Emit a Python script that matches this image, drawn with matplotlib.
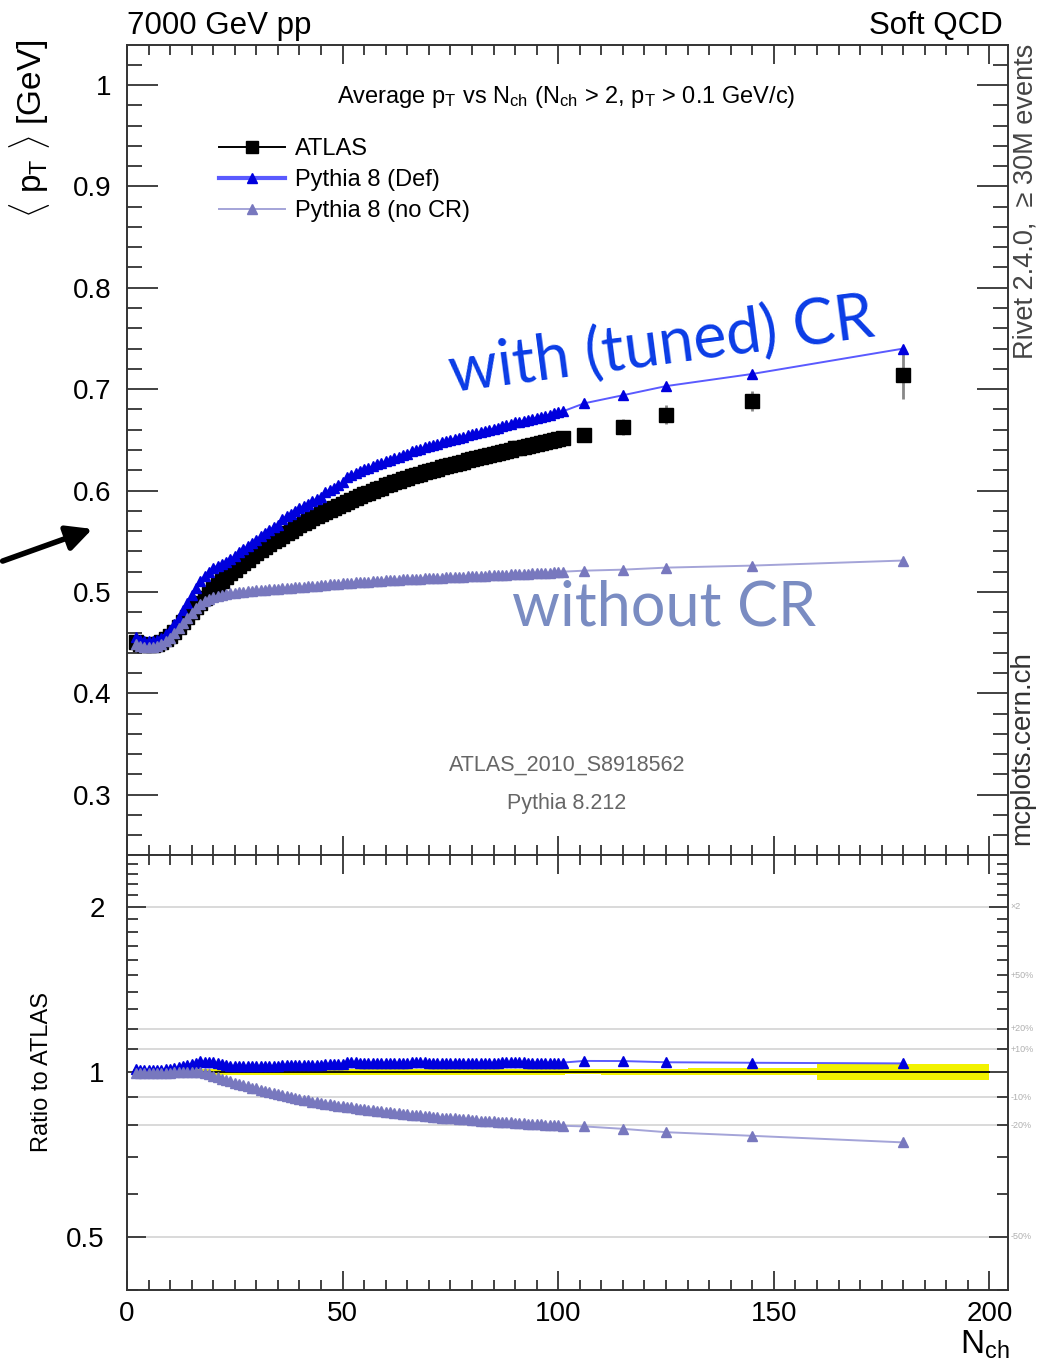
import matplotlib
matplotlib.use("Agg")
import matplotlib.pyplot as plt
import numpy as np
from matplotlib.lines import Line2D
from matplotlib.ticker import FixedLocator, MultipleLocator, NullFormatter

plt.rcParams["font.family"] = ["Liberation Sans", "DejaVu Sans"]
plt.rcParams["mathtext.fontset"] = "custom"
plt.rcParams["mathtext.rm"] = "Liberation Sans"
plt.rcParams["mathtext.it"] = "Liberation Sans:italic"
plt.rcParams["mathtext.sf"] = "Liberation Sans"

# ---- data ----
nch_dense = list(range(2, 102))
atlas_dense = [
    .451, .449, .448, .448, .448, .449, .451, .454, .457, .461,
    .465, .470, .475, .480, .485, .489, .494, .498, .503, .507,
    .511, .515, .519, .522, .526, .529, .532, .535, .538, .541,
    .544, .547, .550, .552, .555, .558, .560, .563, .566, .568,
    .570, .573, .575, .577, .579, .581, .583, .585, .587, .589,
    .591, .593, .595, .597, .598, .600, .602, .603, .605, .606,
    .608, .609, .611, .612, .614, .615, .616, .618, .619, .620,
    .621, .623, .624, .625, .626, .627, .628, .630, .631, .632,
    .633, .634, .635, .636, .637, .638, .639, .640, .642, .642,
    .643, .644, .645, .646, .647, .648, .649, .650, .651, .652,
]
pythia_def_dense = [
    .456, .453, .452, .452, .452, .453, .455, .459, .462, .468,
    .474, .482, .489, .497, .504, .511, .516, .520, .524, .526,
    .528, .530, .533, .535, .539, .542, .545, .548, .551, .555,
    .558, .561, .564, .566, .572, .575, .577, .580, .583, .585,
    .587, .590, .592, .594, .599, .601, .603, .605, .608, .613,
    .615, .617, .619, .621, .622, .624, .626, .627, .629, .630,
    .632, .633, .635, .636, .639, .640, .641, .643, .644, .645,
    .646, .648, .649, .650, .651, .652, .653, .655, .656, .657,
    .658, .659, .660, .661, .662, .664, .665, .666, .668, .668,
    .669, .670, .671, .672, .673, .674, .675, .676, .677, .678,
]
pythia_nocr_dense = [
    .449, .447, .446, .446, .446, .447, .449, .452, .455, .460,
    .464, .469, .474, .479, .484, .488, .491, .493, .495, .496,
    .497, .498, .499, .499, .500, .500, .501, .501, .502, .502,
    .502, .503, .503, .503, .504, .504, .504, .505, .505, .505,
    .506, .506, .506, .507, .507, .508, .508, .508, .509, .509,
    .509, .510, .510, .510, .510, .511, .511, .511, .512, .512,
    .512, .512, .513, .513, .513, .513, .513, .514, .514, .514,
    .514, .514, .515, .515, .515, .515, .515, .516, .516, .516,
    .516, .516, .517, .517, .517, .517, .517, .518, .518, .518,
    .518, .518, .519, .519, .519, .519, .519, .520, .520, .520,
]

nch_wide = [106, 115, 125, 145, 180]
wide_edges = [101.5, 110, 120, 130, 160, 200]
atlas_wide = [.655, .663, .675, .688, .714]
atlas_wide_err = [.007, .008, .009, .010, .024]
pythia_def_wide = [.686, .694, .703, .715, .740]
pythia_nocr_wide = [.521, .522, .524, .526, .531]
atlas_dense_relerr = 0.011

ratio_grid = [2.0, 1.2, 1.1, 0.9, 0.8, 0.5]
ratio_marks = [(2.0, "\u00d72"), (1.5, "+50%"), (1.2, "+20%"), (1.1, "+10%"),
               (0.9, "-10%"), (0.8, "-20%"), (0.5, "-50%")]

# ---- derived arrays ----
nch = np.array(nch_dense + nch_wide, dtype=float)
atlas = np.array(atlas_dense + atlas_wide)
atlas_err = np.concatenate([np.array(atlas_dense) * atlas_dense_relerr, atlas_wide_err])
p8_def = np.array(pythia_def_dense + pythia_def_wide)
p8_nocr = np.array(pythia_nocr_dense + pythia_nocr_wide)
edges = np.concatenate([np.array(nch_dense) - 0.5, wide_edges])
widths = np.diff(edges)
centers = edges[:-1] + widths / 2

C_DEF_M = "#0000dd"
C_DEF_L = "#5a5aff"
C_NOCR_M = "#7878be"
C_NOCR_L = "#a4a4d8"

W, H = 1037, 1367
fig = plt.figure(figsize=(W / 100, H / 100), dpi=100)
ax1 = fig.add_axes([127 / W, 1 - 855 / H, 881 / W, 810 / H])
ax2 = fig.add_axes([127 / W, 1 - 1290 / H, 881 / W, 435 / H], sharex=ax1)

# ---- main panel ----
ax1.errorbar(nch, atlas, yerr=atlas_err, fmt="s", ms=10, mfc="black", mec="black",
             ecolor="#888888", elinewidth=2, capsize=0, zorder=3)
ax1.plot(nch, p8_def, "-^", color=C_DEF_L, lw=1.4, ms=7.5, mfc=C_DEF_M, mec=C_DEF_M, zorder=4)
ax1.plot(nch, p8_nocr, "-^", color=C_NOCR_L, lw=1.4, ms=7.5, mfc=C_NOCR_M, mec=C_NOCR_M, zorder=5)

ax1.set_xlim(0, 204.3)
ax1.set_ylim(0.2406, 1.0394)
ax1.yaxis.set_minor_locator(MultipleLocator(0.02))
ax1.xaxis.set_major_locator(MultipleLocator(50))
ax1.xaxis.set_minor_locator(MultipleLocator(5))
ax1.set_yticks([0.3, 0.4, 0.5, 0.6, 0.7, 0.8, 0.9, 1.0])
ax1.set_yticklabels(["0.3", "0.4", "0.5", "0.6", "0.7", "0.8", "0.9", "1"])
ax1.tick_params(axis="x", which="both", labelbottom=False)

handles = [
    Line2D([], [], color="black", lw=1.4, marker="s", ms=9),
    Line2D([], [], color=C_DEF_L, lw=3, marker="^", ms=7.5, mfc=C_DEF_M, mec=C_DEF_M),
    Line2D([], [], color=C_NOCR_L, lw=1.4, marker="^", ms=7.5, mfc=C_NOCR_M, mec=C_NOCR_M),
]
ax1.legend(handles, ["ATLAS", "Pythia 8 (Def)", "Pythia 8 (no CR)"],
           loc="upper left", bbox_to_anchor=(0.104, 0.885), frameon=False,
           fontsize=17, handlelength=2.8, handletextpad=0.45, labelspacing=0.38,
           borderpad=0, borderaxespad=0)

# ---- ratio panel ----
for g in ratio_grid:
    ax2.axhline(g, color="#d9d9d9", lw=1.4, zorder=0)
relerr = atlas_err / atlas
ax2.bar(centers, 2 * relerr, bottom=1 - relerr, width=widths, color="#f2f200",
        edgecolor="none", zorder=1)
ax2.plot([edges[0], edges[-1]], [1, 1], color="black", lw=1.3, zorder=2)
ax2.plot(nch, p8_def / atlas, "-^", color=C_DEF_L, lw=1.4, ms=7.5, mfc=C_DEF_M, mec=C_DEF_M, zorder=4)
ax2.plot(nch, p8_nocr / atlas, "-^", color=C_NOCR_L, lw=1.4, ms=7.5, mfc=C_NOCR_M, mec=C_NOCR_M, zorder=5)

ax2.set_yscale("log")
ax2.set_ylim(0.400, 2.488)
ax2.yaxis.set_major_locator(FixedLocator([0.5, 1, 2]))
ax2.yaxis.set_minor_locator(FixedLocator(
    [0.4, 0.6, 0.7, 0.8, 0.9, 1.1, 1.2, 1.3, 1.4, 1.5, 1.6, 1.7, 1.8, 1.9,
     2.1, 2.2, 2.3, 2.4]))
ax2.yaxis.set_minor_formatter(NullFormatter())
ax2.set_yticklabels(["0.5", "1", "2"])
ax2.set_xticks([0, 50, 100, 150, 200])
ax2.set_xticklabels(["0", "50", "100", "150", "200"])

for lvl, txt in ratio_marks:
    ax2.text(1.003, lvl, txt, transform=ax2.get_yaxis_transform(), fontsize=6.5,
             color="#b0b0b0", ha="left", va="center", clip_on=False)

for ax in (ax1, ax2):
    for s in ax.spines.values():
        s.set_linewidth(1.4)
        s.set_color("#333333")
    ax.tick_params(which="both", direction="in", top=True, right=True,
                   labelsize=20, width=1.3, color="#333333", pad=8)
ax1.tick_params(axis="y", which="major", length=22, pad=11)
ax1.tick_params(axis="y", which="minor", length=11)
ax2.tick_params(axis="y", which="major", length=14, pad=16)
ax2.tick_params(axis="y", which="minor", length=8)
for ax in (ax1, ax2):
    ax.tick_params(axis="x", which="major", length=14)
    ax.tick_params(axis="x", which="minor", length=7)

# ---- texts ----
fig.text(127 / W, 1 - 34 / H, "7000 GeV pp", fontsize=22.5, ha="left", va="baseline")
fig.text(1003 / W, 1 - 34 / H, "Soft QCD", fontsize=22.5, ha="right", va="baseline")
fig.text(566 / W, 1 - 97 / H,
         r"Average p$_{\rm T}$ vs N$_{\rm ch}$ (N$_{\rm ch}$ > 2, p$_{\rm T}$ > 0.1 GeV/c)",
         fontsize=17, ha="center", va="center")
fig.text(30 / W, 1 - 40 / H, r"$\langle$ p$_{\rm T}$ $\rangle$ [GeV]", fontsize=24,
         rotation=90, ha="center", va="top")
fig.text(42 / W, 1 - 1072 / H, "Ratio to ATLAS", fontsize=17, rotation=90,
         ha="center", va="center")
fig.text(1026 / W, 1 - 44 / H, "Rivet 2.4.0,  \u2265 30M events", fontsize=19.5,
         rotation=90, ha="center", va="top", color="#444444")
fig.text(1022 / W, 1 - 845 / H, "mcplots.cern.ch", fontsize=20, rotation=90,
         ha="center", va="bottom", color="#333333")
fig.text(567 / W, 1 - 765 / H, "ATLAS_2010_S8918562", fontsize=15.5, ha="center",
         va="center", color="#666666")
fig.text(567 / W, 1 - 803 / H, "Pythia 8.212", fontsize=15.5, ha="center",
         va="center", color="#666666")
fig.text(1010 / W, 1 - 1329 / H, r"N$_{\rm ch}$", fontsize=24, ha="right", va="top")

fig.text(452 / W, 1 - 393 / H, "with (tuned) CR", fontsize=45, color="#0a3ce6",
         family=["Lato", "DejaVu Sans"], rotation=7.5, rotation_mode="anchor",
         ha="left", va="baseline")
fig.text(512 / W, 1 - 625 / H, "without CR", fontsize=44, color="#7a8cc2",
         family=["Lato", "DejaVu Sans"], ha="left", va="baseline")

ax1.annotate("", xy=(95 / W, 1 - 528 / H), xytext=(0, 1 - 562 / H),
             xycoords="figure fraction", textcoords="figure fraction",
             arrowprops=dict(arrowstyle="-|>", lw=4, color="black", mutation_scale=38))

fig.savefig("out.png", dpi=100)
